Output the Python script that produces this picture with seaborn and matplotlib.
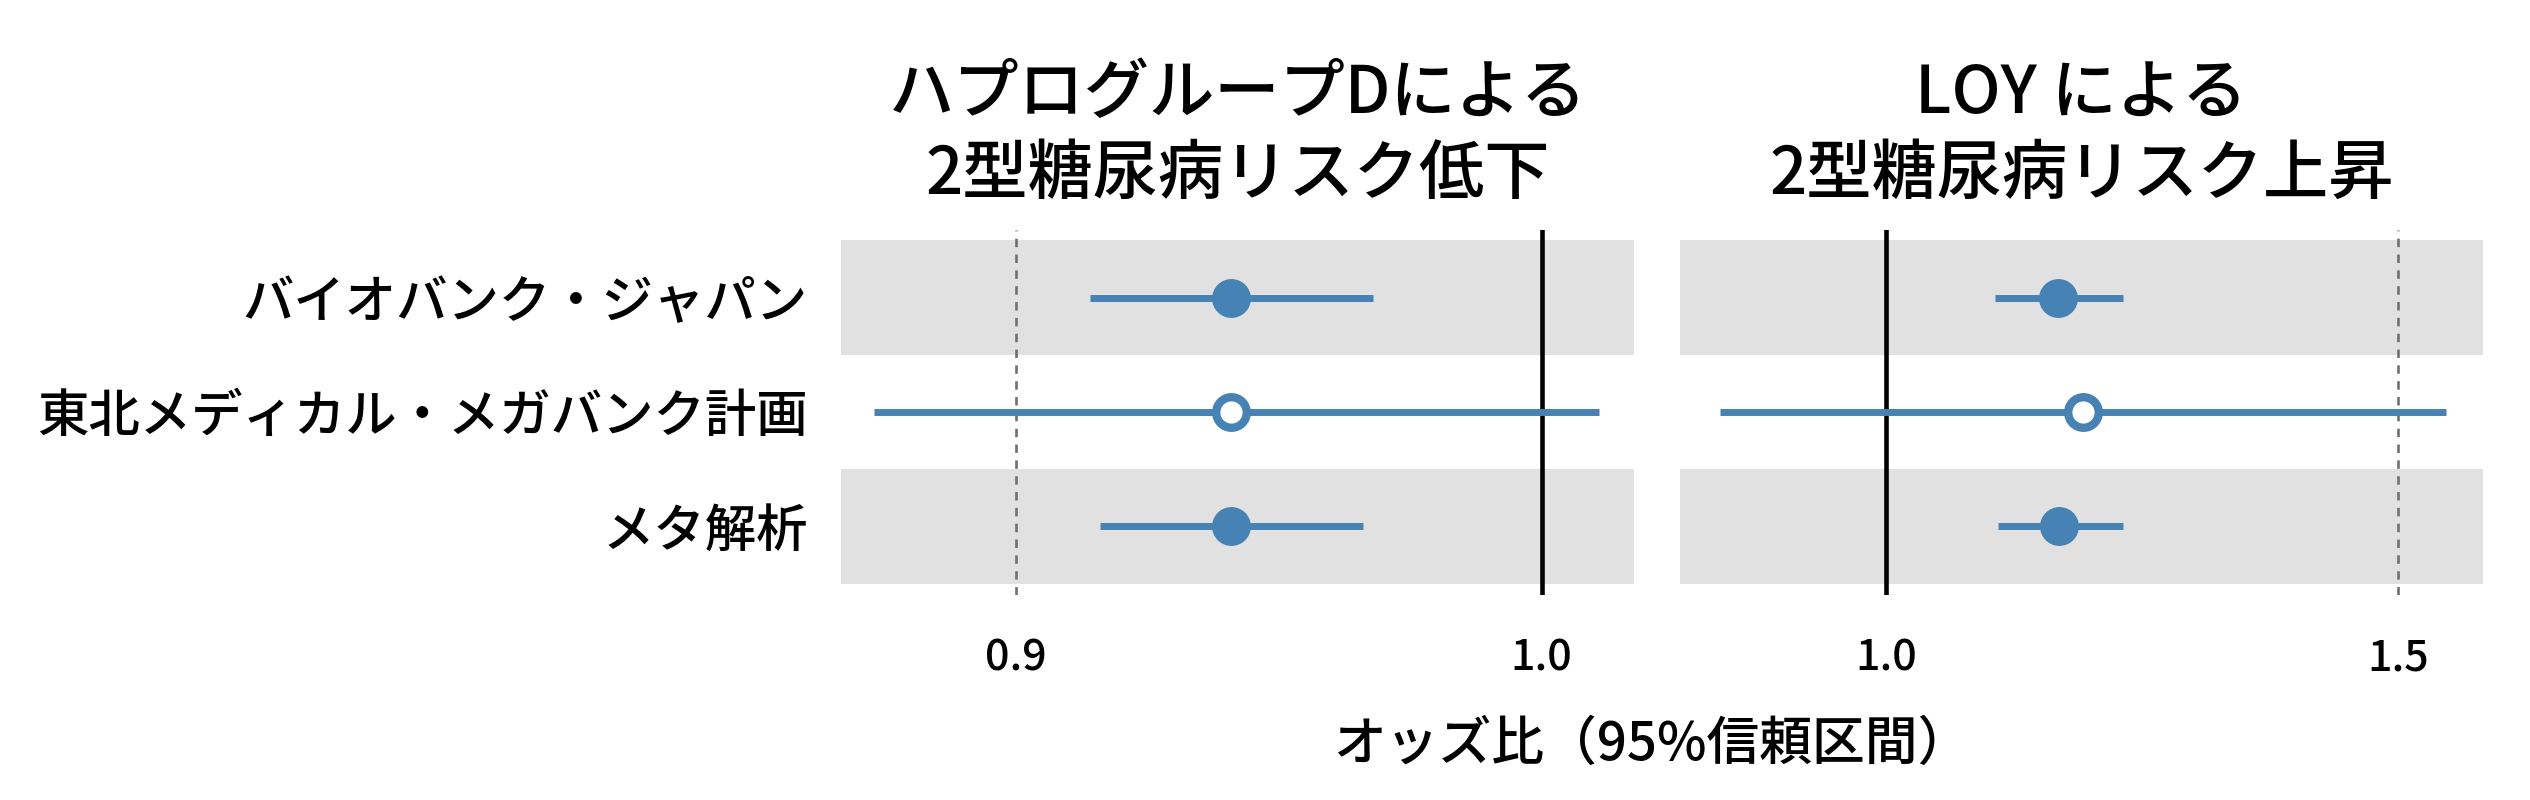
import matplotlib
matplotlib.use("Agg")
import matplotlib.pyplot as plt
import seaborn as sns
import numpy as np
import pandas as pd

# ---- data ----
cohorts = ["バイオバンク・ジャパン", "東北メディカル・メガバンク計画", "メタ解析"]
significant = [True, False, True]

hap_or = [0.941, 0.941, 0.941]
hap_lo = [0.914, 0.873, 0.916]
hap_hi = [0.968, 1.011, 0.966]

loy_or = [1.168, 1.192, 1.169]
loy_lo = [1.107, 0.838, 1.109]
loy_hi = [1.232, 1.547, 1.232]

titles = ["ハプログループDによる\n2型糖尿病リスク低下", "LOY による\n2型糖尿病リスク上昇"]
left_ticks = [0.9, 1.0]
right_ticks = [1.0, 1.5]
left_ref = 0.9
right_ref = 1.5
xlabel = "オッズ比（95%信頼区間）"

sns.set_style("white")
plt.rcParams['font.family'] = ['Noto Sans CJK JP', 'DejaVu Sans']
plt.rcParams['text.color'] = 'black'
plt.rcParams['xtick.color'] = 'black'
plt.rcParams['ytick.color'] = 'black'

BLUE = "#4682b4"
BAND = "#e1e1e1"

fig = plt.figure(figsize=(25.3, 8), dpi=100)
ax1 = fig.add_axes([841/2530, 1-595/800, (1634-841)/2530, (595-230)/800])
ax2 = fig.add_axes([1680/2530, 1-595/800, (2483-1680)/2530, (595-230)/800])

panels = [
    (ax1, hap_or, hap_lo, hap_hi, left_ticks, left_ref, (0.8667, 1.0176), titles[0]),
    (ax2, loy_or, loy_lo, loy_hi, right_ticks, right_ref, (0.799, 1.583), titles[1]),
]

for ax, est, lo, hi, ticks, ref, xlim, title in panels:
    df = pd.DataFrame({"cohort": cohorts, "pos": np.arange(len(cohorts)),
                       "est": est, "lo": lo, "hi": hi, "sig": significant})
    for i in df["pos"]:
        if i % 2 == 0:
            ax.axhspan(i - 0.5, i + 0.5, color=BAND, lw=0, zorder=0)
    ax.axvline(ref, color="#707070", lw=1.9, dashes=(3.2, 2.8), zorder=1)
    ax.axvline(1.0, color="black", lw=3.3, zorder=1)
    ax.hlines(df["pos"], df["lo"], df["hi"], color=BLUE, lw=5, zorder=2)
    sig = df[df["sig"]]
    nsig = df[~df["sig"]]
    sns.scatterplot(data=sig, x="est", y="pos", ax=ax, s=28**2, color=BLUE,
                    edgecolor=BLUE, linewidth=0, zorder=3, legend=False)
    sns.scatterplot(data=nsig, x="est", y="pos", ax=ax, s=22**2, facecolor="white",
                    edgecolor=BLUE, linewidth=6, zorder=3, legend=False)
    ax.set_xlim(*xlim)
    ax.set_ylim(2.6, -0.59)
    ax.set_xticks(ticks)
    ax.set_xticklabels([f"{t:.1f}" for t in ticks], fontsize=31, fontweight="medium")
    ax.tick_params(axis="x", length=0, pad=30)
    ax.set_xlabel("")
    ax.set_ylabel("")
    for s in ax.spines.values():
        s.set_visible(False)
    ax.set_title(title, fontsize=47, linespacing=1.27, pad=26, fontweight="medium")

ax1.set_yticks(np.arange(len(cohorts)))
ax1.set_yticklabels(cohorts, fontsize=37, fontweight="medium")
ax1.tick_params(axis="y", length=0, pad=24)
ax2.set_yticks([])

fig.text(1652/2530, 1-745/800, xlabel, ha="center", va="center", fontsize=38,
         fontweight="medium")

fig.savefig("out.png", dpi=100, facecolor="white")
